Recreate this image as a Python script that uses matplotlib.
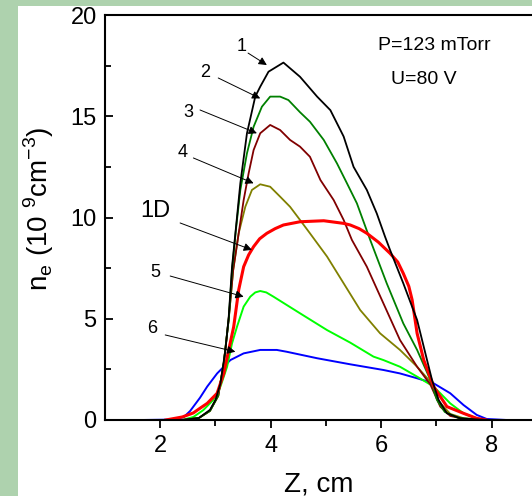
import matplotlib
matplotlib.use('Agg')
import matplotlib.pyplot as plt
from matplotlib.patches import Rectangle

plt.rcParams['font.family'] = ['Liberation Sans', 'DejaVu Sans']

# curves: z in cm, n_e in 1e9 cm^-3
z1 = [2.40, 2.70, 2.90, 3.00, 3.09, 3.18, 3.24, 3.30, 3.36, 3.45, 3.57, 3.72, 3.81, 3.96, 4.08, 4.23,
      4.53, 4.84, 5.08, 5.32, 5.50, 5.74, 5.92, 6.07, 6.16, 6.40, 6.65, 6.83, 6.92, 7.04, 7.19, 7.43, 7.90]
n1 = [0.0, 0.1, 0.5, 0.99, 1.8, 3.46, 5.1, 7.57, 9.2, 11.69, 14.16, 15.97, 16.46, 17.2, 17.4, 17.65,
      16.95, 15.97, 15.3, 14.0, 12.5, 11.36, 10.2, 9.05, 8.4, 6.75, 4.94, 2.96, 1.98, 0.99, 0.33, 0.08, 0.0]

z2 = [2.40, 2.70, 2.90, 3.05, 3.15, 3.24, 3.30, 3.37, 3.45, 3.57, 3.69, 3.84, 3.99, 4.17, 4.32, 4.53,
      4.71, 4.96, 5.20, 5.38, 5.56, 5.80, 6.10, 6.40, 6.65, 6.89, 7.01, 7.15, 7.40, 7.90]
n2 = [0.0, 0.1, 0.45, 1.2, 2.8, 5.0, 7.4, 9.4, 11.36, 13.17, 14.48, 15.47, 15.97, 15.97, 15.8, 15.2,
      14.73, 13.83, 12.67, 11.69, 10.7, 8.9, 6.75, 4.77, 3.46, 1.98, 0.99, 0.4, 0.1, 0.0]

z3 = [2.40, 2.70, 2.90, 3.05, 3.15, 3.24, 3.32, 3.42, 3.51, 3.60, 3.69, 3.81, 3.99, 4.17, 4.35, 4.53,
      4.71, 4.90, 5.14, 5.32, 5.47, 5.74, 6.04, 6.34, 6.65, 6.89, 7.07, 7.25, 7.50, 7.90]
n3 = [0.0, 0.1, 0.45, 1.2, 2.8, 5.0, 7.4, 9.22, 10.86, 12.18, 13.33, 14.16, 14.57, 14.32, 13.83, 13.5,
      13.0, 11.85, 10.86, 9.88, 8.89, 7.57, 5.76, 3.95, 2.63, 1.75, 0.66, 0.2, 0.05, 0.0]

z4 = [2.40, 2.70, 2.90, 3.05, 3.15, 3.24, 3.32, 3.42, 3.54, 3.66, 3.81, 3.99, 4.17, 4.35, 4.53, 4.71,
      5.02, 5.32, 5.62, 5.98, 6.34, 6.65, 6.89, 7.05, 7.25, 7.50, 7.90]
n4 = [0.0, 0.1, 0.45, 1.2, 2.8, 5.0, 7.4, 9.22, 10.53, 11.36, 11.64, 11.52, 11.03, 10.53, 9.88, 9.22,
      8.07, 6.75, 5.43, 4.28, 3.46, 2.63, 1.89, 0.9, 0.3, 0.08, 0.0]

z1d = [2.10, 2.40, 2.60, 2.72, 2.85, 3.03, 3.15, 3.24, 3.33, 3.42, 3.51, 3.60, 3.69, 3.80, 3.93, 4.08,
       4.23, 4.53, 4.96, 5.32, 5.44, 5.60, 5.74, 5.95, 6.16, 6.30, 6.40, 6.50, 6.56, 6.65, 6.77, 6.95,
       7.19, 7.49, 7.73, 7.90]
n1d = [0.0, 0.15, 0.35, 0.58, 0.82, 1.32, 2.3, 3.46, 4.61, 6.42, 7.57, 8.15, 8.56, 8.95, 9.22, 9.45,
       9.63, 9.79, 9.84, 9.71, 9.63, 9.45, 9.22, 8.78, 8.23, 7.8, 7.24, 6.6, 5.93, 4.28, 2.96, 1.65,
       0.66, 0.33, 0.08, 0.0]

z5 = [2.40, 2.60, 2.78, 2.96, 3.09, 3.21, 3.30, 3.39, 3.51, 3.63, 3.72, 3.81, 3.92, 4.05, 4.53, 5.02,
      5.44, 5.86, 6.04, 6.34, 6.65, 6.95, 7.25, 7.49, 7.73, 7.90]
n5 = [0.0, 0.15, 0.49, 0.99, 1.65, 2.63, 3.79, 4.61, 5.6, 6.09, 6.3, 6.37, 6.3, 6.09, 5.27, 4.44,
      3.82, 3.13, 2.96, 2.63, 2.14, 1.65, 0.82, 0.33, 0.08, 0.0]

z6 = [1.67, 2.20, 2.42, 2.54, 2.72, 2.85, 3.03, 3.27, 3.51, 3.81, 4.11, 4.29, 4.84, 5.44, 6.04, 6.34,
      6.65, 6.95, 7.25, 7.49, 7.73, 7.91, 8.27]
n6 = [0.0, 0.02, 0.13, 0.44, 1.1, 1.65, 2.3, 2.96, 3.29, 3.46, 3.46, 3.37, 3.05, 2.75, 2.47, 2.3,
      2.06, 1.81, 1.32, 0.74, 0.25, 0.05, 0.0]

labels = ['1', '2', '3', '4', '1D', '5', '6']
label_pos = [(3.47, 18.42), (2.81, 17.14), (2.51, 15.2), (2.40, 13.19), (1.91, 10.32), (1.91, 7.26), (1.86, 4.54)]
arrow_from = [(3.59, 18.12), (3.05, 16.89), (2.72, 15.31), (2.60, 12.94), (2.36, 9.73), (2.18, 7.11), (2.09, 4.2)]
arrow_to = [(3.93, 17.53), (3.81, 15.88), (3.75, 14.16), (3.69, 11.69), (3.66, 8.4), (3.51, 6.09), (3.36, 3.37)]

fig = plt.figure(figsize=(5.32, 4.96), dpi=100)
fig.patch.set_facecolor('#aed2ae')
fig.patches.append(Rectangle((17.5 / 532, 0), 1, 1 - 6 / 496, transform=fig.transFigure,
                             facecolor='white', edgecolor='none', zorder=-5))

ax = fig.add_axes([105 / 532, 1 - 420 / 496, 1 - 105 / 532, 405 / 496])
ax.set_facecolor('white')

ax.plot(z6, n6, color='#0000ff', lw=1.4)
ax.plot(z5, n5, color='#00ff00', lw=1.4)
ax.plot(z4, n4, color='#808000', lw=1.3)
ax.plot(z3, n3, color='#800000', lw=1.3)
ax.plot(z2, n2, color='#008000', lw=1.3)
ax.plot(z1d, n1d, color='#ff0000', lw=2.2)
ax.plot(z1, n1, color='black', lw=1.3)

for lab, pos, a0, a1 in zip(labels, label_pos, arrow_from, arrow_to):
    ax.text(pos[0], pos[1], lab, fontsize=17 if lab == '1D' else 13, ha='center', va='center')
    ax.annotate('', xy=a1, xytext=a0,
                arrowprops=dict(arrowstyle='-|>', color='black', lw=0.7, mutation_scale=12,
                                shrinkA=0, shrinkB=0))

ax.text(6.96, 18.47, 'P=123 mTorr', fontsize=14, ha='center', va='center')
ax.text(6.78, 16.8, 'U=80 V', fontsize=14, ha='center', va='center')

ax.set_xlim(1.0, 8.73)
ax.set_ylim(0, 20)
ax.set_xticks([2, 4, 6, 8])
ax.set_xticks([3, 5, 7], minor=True)
ax.set_yticks([0, 5, 10, 15, 20])
ax.set_yticks([2.5, 7.5, 12.5, 17.5], minor=True)
ax.tick_params(axis='x', which='major', direction='out', length=6, width=1.3, labelsize=17, pad=5)
ax.tick_params(axis='x', which='minor', direction='out', length=4, width=1.3)
ax.tick_params(axis='y', which='major', direction='in', length=6, width=1.3, labelsize=17, pad=6)
ax.tick_params(axis='y', which='minor', direction='in', length=4, width=1.3)
for s in ['left', 'bottom', 'top']:
    ax.spines[s].set_linewidth(1.5)
ax.spines['right'].set_visible(False)

ax.set_xlabel('Z, cm', fontsize=20, labelpad=10)
fig.text(39 / 532, 1 - 209 / 496, r'n$_\mathregular{e}$ (10 $^\mathregular{9}$cm$^\mathregular{-3}$)',
         fontsize=20, rotation=90, ha='center', va='center')

fig.savefig('out.png', dpi=100)
